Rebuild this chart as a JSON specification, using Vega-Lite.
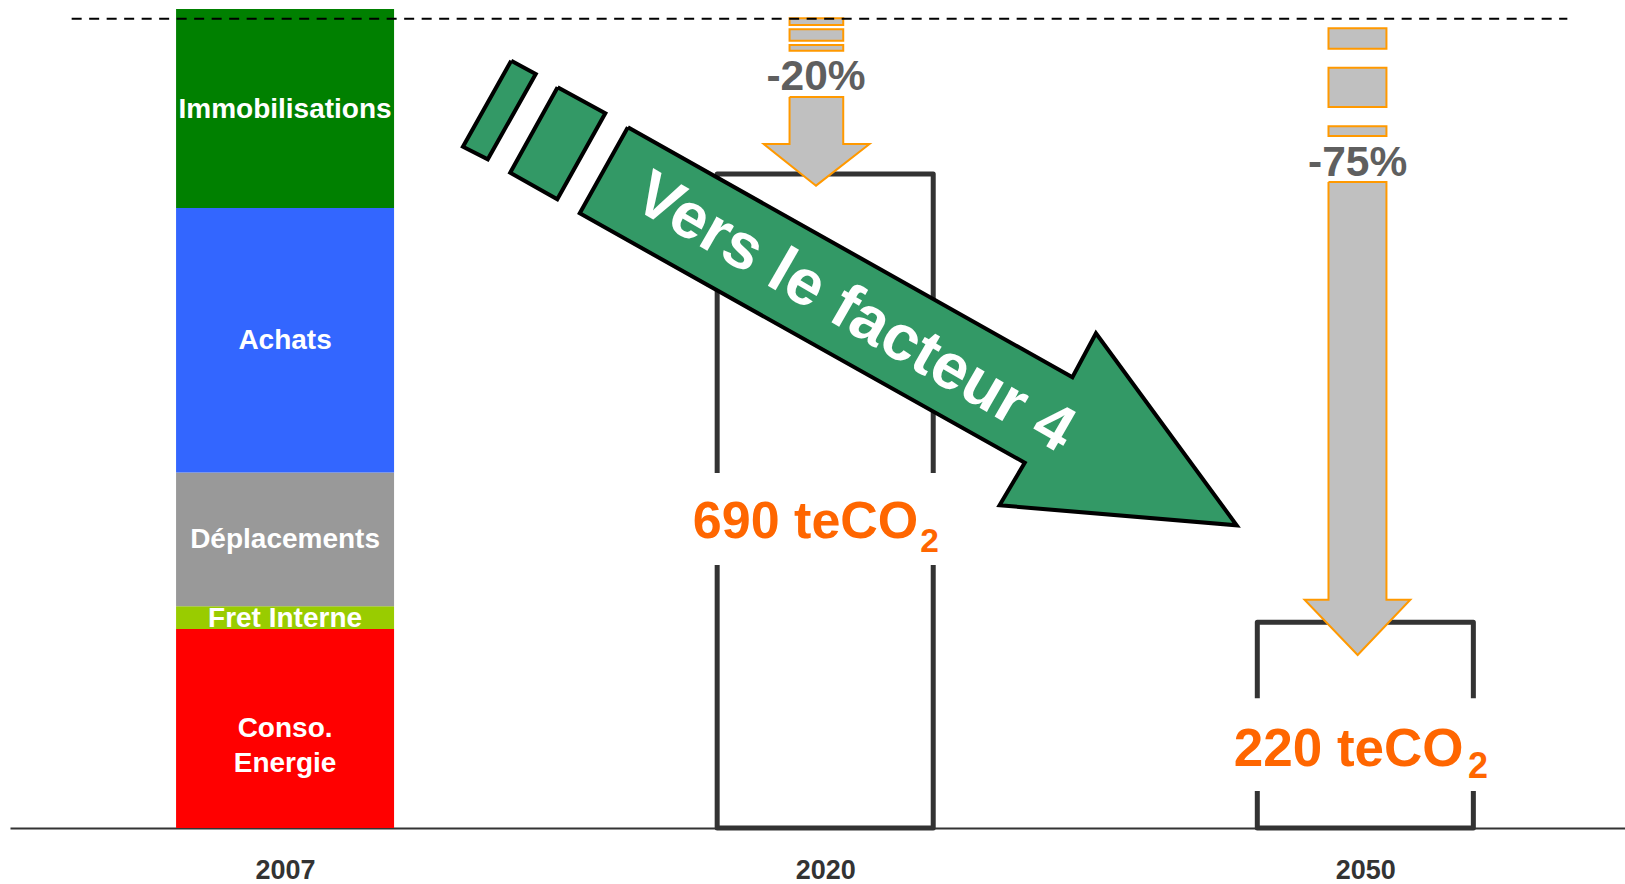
{
  "$schema": "https://vega.github.io/schema/vega-lite/v6.json",
  "width": 1615,
  "height": 828,
  "autosize": {"type": "none"},
  "padding": {"left": 10, "top": 0, "right": 0, "bottom": 56},
  "background": "white",
  "config": {"view": {"stroke": null}, "font": "Liberation Sans"},
  "datasets": {
    "emissions": [
      {"year": "2007", "slot": 0, "poste": "Conso. Energie", "rank": 1, "teCO2": 210},
      {"year": "2007", "slot": 0, "poste": "Fret Interne", "rank": 2, "teCO2": 24},
      {"year": "2007", "slot": 0, "poste": "Déplacements", "rank": 3, "teCO2": 141},
      {"year": "2007", "slot": 0, "poste": "Achats", "rank": 4, "teCO2": 279},
      {"year": "2007", "slot": 0, "poste": "Immobilisations", "rank": 5, "teCO2": 210}
    ],
    "boxes": [
      {"part": "2020a", "o": 1, "s": 0.8, "v": 374.5},
      {"part": "2020a", "o": 2, "s": 0.8, "v": 690},
      {"part": "2020a", "o": 3, "s": 1.2, "v": 690},
      {"part": "2020a", "o": 4, "s": 1.2, "v": 374.5},
      {"part": "2020b", "o": 1, "s": 0.8, "v": 277.5},
      {"part": "2020b", "o": 2, "s": 0.8, "v": 0},
      {"part": "2020b", "o": 3, "s": 1.2, "v": 0},
      {"part": "2020b", "o": 4, "s": 1.2, "v": 277.5},
      {"part": "2050a", "o": 1, "s": 1.8, "v": 137},
      {"part": "2050a", "o": 2, "s": 1.8, "v": 217},
      {"part": "2050a", "o": 3, "s": 2.2, "v": 217},
      {"part": "2050a", "o": 4, "s": 2.2, "v": 137},
      {"part": "2050b", "o": 1, "s": 1.8, "v": 39},
      {"part": "2050b", "o": 2, "s": 1.8, "v": 0},
      {"part": "2050b", "o": 3, "s": 2.2, "v": 0},
      {"part": "2050b", "o": 4, "s": 2.2, "v": 39}
    ],
    "grayStripes": [
      {"s0": 0.934, "s1": 1.0334, "v0": 847.2, "v1": 854.3},
      {"s0": 0.934, "s1": 1.0334, "v0": 830.6, "v1": 842.7},
      {"s0": 0.934, "s1": 1.0334, "v0": 820.1, "v1": 826.1},
      {"s0": 1.9318, "s1": 2.0391, "v0": 822.2, "v1": 843.7},
      {"s0": 1.9318, "s1": 2.0391, "v0": 760.7, "v1": 802.2},
      {"s0": 1.9318, "s1": 2.0391, "v0": 730.1, "v1": 740.3}
    ],
    "grayArrows": [
      {"arrow": "2020", "o": 1, "s": 0.934, "v": 771.2},
      {"arrow": "2020", "o": 2, "s": 1.0334, "v": 771.2},
      {"arrow": "2020", "o": 3, "s": 1.0334, "v": 721.6},
      {"arrow": "2020", "o": 4, "s": 1.082, "v": 721.6},
      {"arrow": "2020", "o": 5, "s": 0.983, "v": 677.7},
      {"arrow": "2020", "o": 6, "s": 0.8862, "v": 721.6},
      {"arrow": "2020", "o": 7, "s": 0.934, "v": 721.6},
      {"arrow": "2020", "o": 8, "s": 0.934, "v": 771.2},
      {"arrow": "2050", "o": 1, "s": 1.9318, "v": 681.6},
      {"arrow": "2050", "o": 2, "s": 2.0391, "v": 681.6},
      {"arrow": "2050", "o": 3, "s": 2.0391, "v": 240.9},
      {"arrow": "2050", "o": 4, "s": 2.0833, "v": 240.9},
      {"arrow": "2050", "o": 5, "s": 1.9858, "v": 182.5},
      {"arrow": "2050", "o": 6, "s": 1.8875, "v": 240.9},
      {"arrow": "2050", "o": 7, "s": 1.9318, "v": 240.9},
      {"arrow": "2050", "o": 8, "s": 1.9318, "v": 681.6}
    ],
    "greenArrow": [
      {"piece": "body", "o": 1, "s": 0.6347, "v": 739.3},
      {"piece": "body", "o": 2, "s": 1.4577, "v": 475.5},
      {"piece": "body", "o": 3, "s": 1.5013, "v": 521.9},
      {"piece": "body", "o": 4, "s": 1.7618, "v": 319.4},
      {"piece": "body", "o": 5, "s": 1.3228, "v": 340.5},
      {"piece": "body", "o": 6, "s": 1.3694, "v": 385.4},
      {"piece": "body", "o": 7, "s": 0.5456, "v": 648.5},
      {"piece": "body", "o": 8, "s": 0.6347, "v": 739.3},
      {"piece": "stripe1", "o": 1, "s": 0.4187, "v": 809.5},
      {"piece": "stripe1", "o": 2, "s": 0.4641, "v": 795.5},
      {"piece": "stripe1", "o": 3, "s": 0.3753, "v": 705.5},
      {"piece": "stripe1", "o": 4, "s": 0.3293, "v": 718.8},
      {"piece": "stripe1", "o": 5, "s": 0.4187, "v": 809.5},
      {"piece": "stripe2", "o": 1, "s": 0.5046, "v": 781.5},
      {"piece": "stripe2", "o": 2, "s": 0.5929, "v": 754.0},
      {"piece": "stripe2", "o": 3, "s": 0.504, "v": 663.3},
      {"piece": "stripe2", "o": 4, "s": 0.4168, "v": 691.4},
      {"piece": "stripe2", "o": 5, "s": 0.5046, "v": 781.5}
    ]
  },
  "layer": [
    {
      "data": {"name": "emissions"},
      "mark": {"type": "bar", "width": 218},
      "encoding": {
        "x": {
          "field": "slot", "type": "quantitative",
          "scale": {"domain": [-0.5, 2.4715], "nice": false, "zero": false},
          "axis": {
            "values": [0, 1, 2],
            "labelExpr": "datum.value == 0 ? '2007' : datum.value == 1 ? '2020' : '2050'",
            "title": null, "ticks": false, "grid": false,
            "domainColor": "#333333", "domainWidth": 2,
            "labelFont": "Liberation Sans", "labelFontSize": 27, "labelFontWeight": "bold",
            "labelColor": "#333333", "labelPadding": 29
          }
        },
        "y": {
          "field": "teCO2", "type": "quantitative", "stack": "zero",
          "scale": {"domain": [0, 873.58], "nice": false}, "axis": null
        },
        "order": {"field": "rank", "type": "quantitative"},
        "color": {
          "field": "poste", "type": "nominal", "legend": null,
          "scale": {
            "domain": ["Conso. Energie", "Fret Interne", "Déplacements", "Achats", "Immobilisations"],
            "range": ["#FF0000", "#99CC00", "#999999", "#3366FF", "#008000"]
          }
        }
      }
    },
    {
      "data": {"name": "emissions"},
      "transform": [
        {"stack": "teCO2", "groupby": ["slot"], "sort": [{"field": "rank", "order": "ascending"}], "as": ["lo", "hi"]},
        {"calculate": "(datum.lo + datum.hi) / 2", "as": "mid"},
        {"filter": "datum.poste != 'Conso. Energie'"}
      ],
      "mark": {"type": "text", "fontSize": 28, "fontWeight": "bold", "color": "white", "align": "center", "baseline": "middle", "dy": 1},
      "encoding": {
        "x": {"field": "slot", "type": "quantitative", "scale": {"domain": [-0.5, 2.4715], "nice": false, "zero": false}},
        "y": {"field": "mid", "type": "quantitative", "scale": {"domain": [0, 873.58], "nice": false}, "axis": null},
        "text": {"field": "poste"}
      }
    },
    {
      "data": {"name": "emissions"},
      "transform": [
        {"stack": "teCO2", "groupby": ["slot"], "sort": [{"field": "rank", "order": "ascending"}], "as": ["lo", "hi"]},
        {"calculate": "(datum.lo + datum.hi) / 2", "as": "mid"},
        {"filter": "datum.poste == 'Conso. Energie'"}
      ],
      "mark": {"type": "text", "fontSize": 28, "fontWeight": "bold", "color": "white", "align": "center", "baseline": "middle", "lineHeight": 35, "dy": 1},
      "encoding": {
        "x": {"field": "slot", "type": "quantitative", "scale": {"domain": [-0.5, 2.4715], "nice": false, "zero": false}},
        "y": {"field": "mid", "type": "quantitative", "scale": {"domain": [0, 873.58], "nice": false}, "axis": null},
        "text": {"value": ["Conso.", "Energie"]}
      }
    },
    {
      "data": {"name": "boxes"},
      "mark": {"type": "line", "stroke": "#333333", "strokeWidth": 5, "strokeJoin": "round", "strokeCap": "butt"},
      "encoding": {
        "x": {"field": "s", "type": "quantitative", "scale": {"domain": [-0.5, 2.4715], "nice": false, "zero": false}},
        "y": {"field": "v", "type": "quantitative", "scale": {"domain": [0, 873.58], "nice": false}, "axis": null},
        "detail": {"field": "part"},
        "order": {"field": "o", "type": "quantitative"}
      }
    },
    {
      "data": {"name": "grayStripes"},
      "mark": {"type": "rect", "fill": "#C0C0C0", "stroke": "#FF9900", "strokeWidth": 2},
      "encoding": {
        "x": {"field": "s0", "type": "quantitative", "scale": {"domain": [-0.5, 2.4715], "nice": false, "zero": false}},
        "x2": {"field": "s1"},
        "y": {"field": "v0", "type": "quantitative", "scale": {"domain": [0, 873.58], "nice": false}, "axis": null},
        "y2": {"field": "v1"}
      }
    },
    {
      "data": {"name": "grayArrows"},
      "mark": {"type": "line", "fill": "#C0C0C0", "stroke": "#FF9900", "strokeWidth": 2, "strokeJoin": "miter"},
      "encoding": {
        "x": {"field": "s", "type": "quantitative", "scale": {"domain": [-0.5, 2.4715], "nice": false, "zero": false}},
        "y": {"field": "v", "type": "quantitative", "scale": {"domain": [0, 873.58], "nice": false}, "axis": null},
        "detail": {"field": "arrow"},
        "order": {"field": "o", "type": "quantitative"}
      }
    },
    {
      "data": {"name": "greenArrow"},
      "mark": {"type": "line", "fill": "#339966", "stroke": "#000000", "strokeWidth": 4, "strokeJoin": "miter"},
      "encoding": {
        "x": {"field": "s", "type": "quantitative", "scale": {"domain": [-0.5, 2.4715], "nice": false, "zero": false}},
        "y": {"field": "v", "type": "quantitative", "scale": {"domain": [0, 873.58], "nice": false}, "axis": null},
        "detail": {"field": "piece"},
        "order": {"field": "o", "type": "quantitative"}
      }
    },
    {
      "data": {"values": [{"ref": "2007"}]},
      "mark": {"type": "rule", "stroke": "#000000", "strokeWidth": 2, "strokeDash": [10, 7.5]},
      "encoding": {
        "x": {"datum": -0.3951, "type": "quantitative", "scale": {"domain": [-0.5, 2.4715], "nice": false, "zero": false}},
        "x2": {"datum": 2.374},
        "y": {"datum": 853.9, "type": "quantitative", "scale": {"domain": [0, 873.58], "nice": false}, "axis": null}
      }
    },
    {
      "data": {"values": [{"label": "Vers le facteur 4"}]},
      "mark": {"type": "text", "fontSize": 64.5, "fontWeight": "bold", "color": "white", "align": "center", "baseline": "alphabetic", "angle": 30},
      "encoding": {
        "x": {"datum": 1.0363, "type": "quantitative", "scale": {"domain": [-0.5, 2.4715], "nice": false, "zero": false}},
        "y": {"datum": 525.4, "type": "quantitative", "scale": {"domain": [0, 873.58], "nice": false}, "axis": null},
        "text": {"field": "label"}
      }
    },
    {
      "data": {"values": [{"label": "-20%", "s": 0.983, "v": 778.6}, {"label": "-75%", "s": 1.9858, "v": 688.2}]},
      "mark": {"type": "text", "fontSize": 42.5, "fontWeight": "bold", "color": "#5F5F5F", "align": "center", "baseline": "alphabetic"},
      "encoding": {
        "x": {"field": "s", "type": "quantitative", "scale": {"domain": [-0.5, 2.4715], "nice": false, "zero": false}},
        "y": {"field": "v", "type": "quantitative", "scale": {"domain": [0, 873.58], "nice": false}, "axis": null},
        "text": {"field": "label"}
      }
    },
    {
      "data": {"values": [{"label": "690 teCO"}]},
      "mark": {"type": "text", "fontSize": 52, "fontWeight": "bold", "color": "#FF6600", "align": "center", "baseline": "alphabetic"},
      "encoding": {
        "x": {"datum": 0.9637, "type": "quantitative", "scale": {"domain": [-0.5, 2.4715], "nice": false, "zero": false}},
        "y": {"datum": 305.6, "type": "quantitative", "scale": {"domain": [0, 873.58], "nice": false}, "axis": null},
        "text": {"field": "label"}
      }
    },
    {
      "data": {"values": [{"label": "2"}]},
      "mark": {"type": "text", "fontSize": 33.5, "fontWeight": "bold", "color": "#FF6600", "align": "left", "baseline": "alphabetic"},
      "encoding": {
        "x": {"datum": 1.1761, "type": "quantitative", "scale": {"domain": [-0.5, 2.4715], "nice": false, "zero": false}},
        "y": {"datum": 290.9, "type": "quantitative", "scale": {"domain": [0, 873.58], "nice": false}, "axis": null},
        "text": {"field": "label"}
      }
    },
    {
      "data": {"values": [{"label": "220 teCO"}]},
      "mark": {"type": "text", "fontSize": 53, "fontWeight": "bold", "color": "#FF6600", "align": "center", "baseline": "alphabetic"},
      "encoding": {
        "x": {"datum": 1.9692, "type": "quantitative", "scale": {"domain": [-0.5, 2.4715], "nice": false, "zero": false}},
        "y": {"datum": 65.4, "type": "quantitative", "scale": {"domain": [0, 873.58], "nice": false}, "axis": null},
        "text": {"field": "label"}
      }
    },
    {
      "data": {"values": [{"label": "2"}]},
      "mark": {"type": "text", "fontSize": 36, "fontWeight": "bold", "color": "#FF6600", "align": "left", "baseline": "alphabetic"},
      "encoding": {
        "x": {"datum": 2.1899, "type": "quantitative", "scale": {"domain": [-0.5, 2.4715], "nice": false, "zero": false}},
        "y": {"datum": 52.4, "type": "quantitative", "scale": {"domain": [0, 873.58], "nice": false}, "axis": null},
        "text": {"field": "label"}
      }
    }
  ]
}
